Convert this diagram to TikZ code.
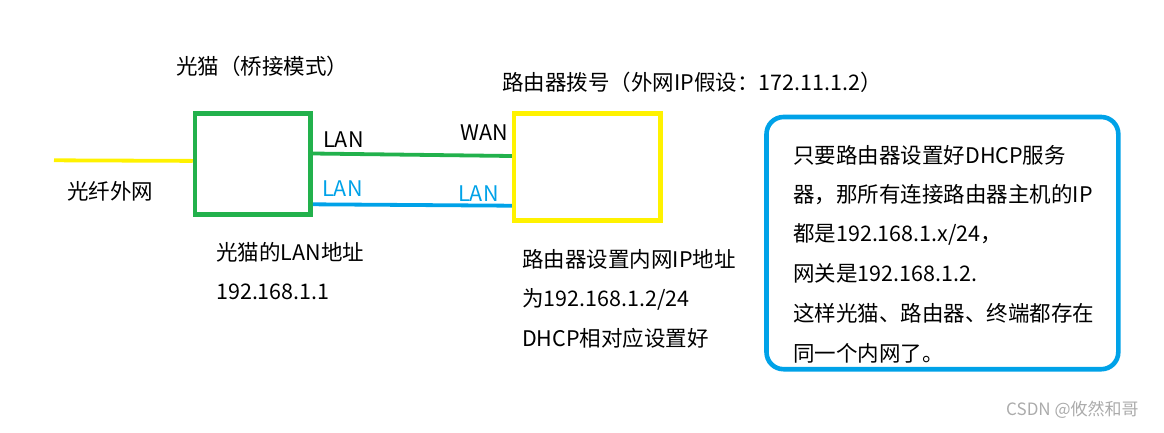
\documentclass[tikz,border=0pt]{standalone}
\usepackage{fontspec}
\setmainfont{Noto Sans CJK SC}
\usepackage{xcolor}
\usetikzlibrary{positioning}

\definecolor{mgreen}{RGB}{34,177,76}
\definecolor{myellow}{RGB}{255,242,0}
\definecolor{mblue}{RGB}{0,162,232}

\begin{document}
\begin{tikzpicture}[x=1pt,y=-1pt]
			\tikzstyle{txt} = [anchor=west,inner sep=0pt,font=\fontsize{21.5}{25}\selectfont]
			\tikzstyle{device}=[draw, line width=4.6pt, inner sep=0pt]
			\tikzset{wire/.style = {line width=3.8pt}}
			\useasboundingbox (0,0) rectangle (1164,432);
			
			\node[device, draw=mgreen, minimum width=115.5pt, minimum height=101.2pt](modem) at (252.8,163.9) {};
			\node[device, draw=myellow, minimum width=146.3pt, minimum height=106.9pt](router) at (587.3,166.8) {};
			\node[device, draw=mblue, rounded corners=17pt, minimum width=351.8pt, minimum height=252.2pt](notebox) at (942.4,243.1) {};
			\coordinate (fiber) at (54,160.3);
			
			\node[txt](modemtitle) at (176,66) {光猫（桥接模式）};
			\node[txt](routertitle) at (502,82) {路由器拨号（外网IP假设：172.11.1.2）};
			\node[txt](fibertext) at (67,191.5) {光纤外网};
			\node[txt](lan1) at (323,140) {LAN};
			\node[txt](wan) at (460,132.5) {WAN};
			\node[txt, text=mblue](lan2) at (322,189) {LAN};
			\node[txt, text=mblue](lan3) at (458,193.5) {LAN};
			\node[txt](modemip1) at (216,252) {光猫的LAN地址};
			\node[txt](modemip2) at (216,292) {192.168.1.1};
			\node[txt](routerip1) at (522,259) {路由器设置内网IP地址};
			\node[txt](routerip2) at (522,299) {为192.168.1.2/24};
			\node[txt](routerip3) at (522,338) {DHCP相对应设置好};
			\foreach \line [count=\i from 0] in {只要路由器设置好DHCP服务,器，那所有连接路由器主机的IP,都是192.168.1.x/24，,网关是192.168.1.2.,这样光猫、路由器、终端都存在,同一个内网了。}
				\node[txt](note\i) at (793,155+39.6*\i) {\line};
			\node[txt, text=black!33, font=\fontsize{17}{20}\selectfont](mark) at (1006,410) {CSDN @攸然和哥};
			
			\draw[wire, draw=myellow] (fiber) -- ([yshift=3pt]modem.west);
			\draw[wire, draw=mgreen] ([yshift=10.4pt]modem.east) -- ([yshift=10.8pt]router.west);
			\draw[wire, draw=mblue] ([yshift=-40.4pt]modem.east) -- ([yshift=-38.9pt]router.west);
			\end{tikzpicture}
\end{document}
